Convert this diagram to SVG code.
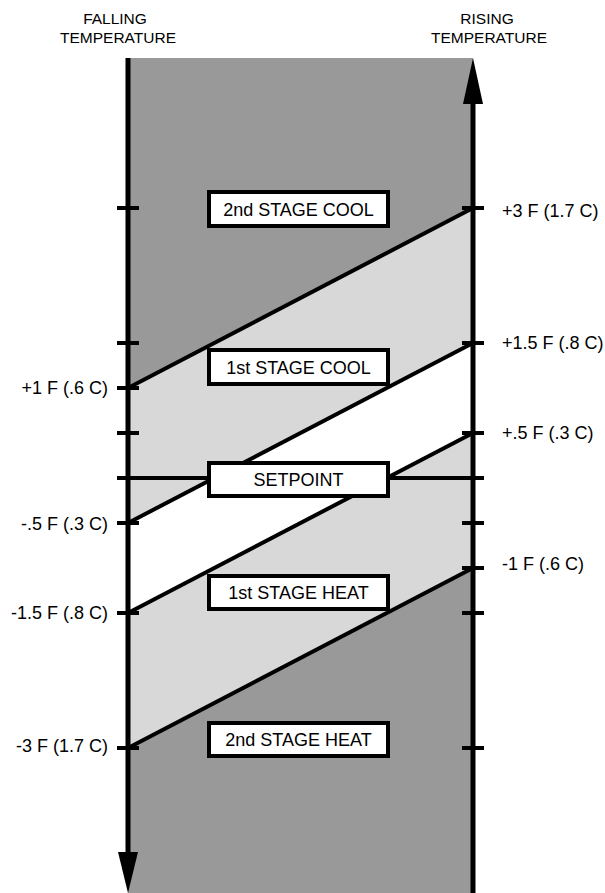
<svg xmlns="http://www.w3.org/2000/svg" width="605" height="893" viewBox="0 0 605 893">
<style>
text{font-family:"Liberation Sans",Arial,Helvetica,sans-serif;fill:#000}
.hdr{font-size:15.5px;text-anchor:middle}
.lbl{font-size:18px}
.lft{text-anchor:end}
.box rect{fill:#fff;stroke:#000;stroke-width:4}
.box text{font-size:18px;text-anchor:middle}
.dark{fill:#999999}
.light{fill:#d8d8d8}
.ln{stroke:#000;stroke-width:4;fill:none}
.axis{stroke:#000;stroke-width:5;fill:none}
.tick{stroke:#000;stroke-width:4}
</style>
<rect width="605" height="893" fill="#fff"/>
<g id="headers">
<text class="hdr" x="115" y="24">FALLING</text>
<text class="hdr" x="118" y="43">TEMPERATURE</text>
<text class="hdr" x="487" y="24">RISING</text>
<text class="hdr" x="489" y="43">TEMPERATURE</text>
</g>
<g id="zones">
<polygon class="dark" points="128,58 473,58 473,208 128,388"/>
<polygon class="light" points="128,388 473,208 473,343 128,523"/>
<polygon fill="#fff" points="128,523 473,343 473,433 128,613"/>
<polygon class="light" points="128,613 473,433 473,568 128,748"/>
<polygon class="dark" points="128,748 473,568 473,893 128,893"/>
</g>
<g id="connectors">
<line class="ln" x1="128" y1="388" x2="473" y2="208"/>
<line class="ln" x1="128" y1="523" x2="473" y2="343"/>
<line class="ln" x1="128" y1="613" x2="473" y2="433"/>
<line class="ln" x1="128" y1="748" x2="473" y2="568"/>
<line class="ln" x1="128" y1="478" x2="473" y2="478"/>
</g>
<g id="axes">
<line class="axis" x1="128" y1="58" x2="128" y2="860"/>
<polygon points="118,852 138,852 128,893"/>
<line class="axis" x1="473" y1="893" x2="473" y2="95"/>
<polygon points="463,104 483,104 473,58"/>
<g id="ticks-left">
<line class="tick" x1="117" y1="208" x2="139" y2="208"/>
<line class="tick" x1="117" y1="343" x2="139" y2="343"/>
<line class="tick" x1="117" y1="388" x2="139" y2="388"/>
<line class="tick" x1="117" y1="433" x2="139" y2="433"/>
<line class="tick" x1="117" y1="478" x2="139" y2="478"/>
<line class="tick" x1="117" y1="523" x2="139" y2="523"/>
<line class="tick" x1="117" y1="613" x2="139" y2="613"/>
<line class="tick" x1="117" y1="748" x2="139" y2="748"/>
</g>
<g id="ticks-right">
<line class="tick" x1="462" y1="208" x2="484" y2="208"/>
<line class="tick" x1="462" y1="343" x2="484" y2="343"/>
<line class="tick" x1="462" y1="433" x2="484" y2="433"/>
<line class="tick" x1="462" y1="478" x2="484" y2="478"/>
<line class="tick" x1="462" y1="523" x2="484" y2="523"/>
<line class="tick" x1="462" y1="568" x2="484" y2="568"/>
<line class="tick" x1="462" y1="613" x2="484" y2="613"/>
<line class="tick" x1="462" y1="748" x2="484" y2="748"/>
</g>
</g>
<g id="labels">
<text class="lbl" x="502" y="217">+3 F (1.7 C)</text>
<text class="lbl" x="502" y="349">+1.5 F (.8 C)</text>
<text class="lbl" x="502" y="439">+.5 F (.3 C)</text>
<text class="lbl" x="502" y="570">-1 F (.6 C)</text>
<text class="lbl lft" x="108" y="394">+1 F (.6 C)</text>
<text class="lbl lft" x="108" y="530">-.5 F (.3 C)</text>
<text class="lbl lft" x="108" y="619">-1.5 F (.8 C)</text>
<text class="lbl lft" x="108" y="752">-3 F (1.7 C)</text>
</g>
<g id="stage2cool" class="box"><rect x="209" y="192" width="179" height="34"/><text x="298.5" y="216">2nd STAGE COOL</text></g>
<g id="stage1cool" class="box"><rect x="209" y="350" width="179" height="34"/><text x="298.5" y="374">1st STAGE COOL</text></g>
<g id="setpoint" class="box"><rect x="209" y="463" width="179" height="33"/><text x="298.5" y="486">SETPOINT</text></g>
<g id="stage1heat" class="box"><rect x="209" y="576" width="179" height="33"/><text x="298.5" y="599">1st STAGE HEAT</text></g>
<g id="stage2heat" class="box"><rect x="209" y="723" width="179" height="33"/><text x="298.5" y="746">2nd STAGE HEAT</text></g>
</svg>
